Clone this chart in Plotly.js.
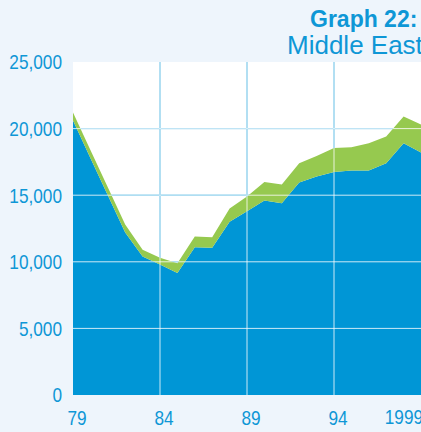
<!DOCTYPE html>
<html>
<head>
<meta charset="utf-8">
<script src="https://cdn.plot.ly/plotly-3.0.1.min.js"></script>
<style>
  html, body { margin: 0; padding: 0; background: #eef5fc; }
  #chart { width: 421px; height: 432px; }
  /* narrow look of the reference's tick labels */
  #chart g.ytick { transform-box: fill-box; transform-origin: 100% 50%; transform: scaleX(0.82); }
  #chart g.xtick { transform-box: fill-box; transform-origin: 50% 50%; transform: scaleX(0.82); }
  #chart .annotation[data-index="0"] .annotation-text-g { transform-box: fill-box; transform-origin: 100% 50%; transform: scaleX(0.82); }
</style>
</head>
<body>
<div id="chart"></div>
<script>
// ---- data ----
const years = [1979, 1980, 1981, 1982, 1983, 1984, 1985, 1986, 1987, 1988, 1989,
               1990, 1991, 1992, 1993, 1994, 1995, 1996, 1997, 1998, 1999];
// lower (blue) series
const blueValues = [20600, 17800, 15000, 12200, 10400, 9800, 9150, 11100, 11050, 13000, 13800,
                    14600, 14400, 15950, 16400, 16750, 16850, 16850, 17400, 18900, 18200];
// upper (green) series, stacked on top of the blue one
const greenValues = [600, 600, 600, 600, 500, 500, 750, 800, 800, 1000, 1100,
                     1400, 1400, 1450, 1550, 1800, 1750, 2050, 2000, 2000, 2100];

const xTickVals = [1979, 1984, 1989, 1994];
const xTickText = ['79', '84', '89', '94'];
const lastXLabelYear = 1999;
const lastXLabelText = '1999';
const yTickVals = [0, 5000, 10000, 15000, 20000, 25000];
const gridXVals = [1984, 1989, 1994];
const gridYVals = [5000, 10000, 15000, 20000];
const titleLine1 = 'Graph 22:';
const titleLine2 = 'Middle East';

// ---- styles ----
const BLUE = '#0096d6';
const GREEN = '#96c94f';
const BG = '#eef5fc';
const TEXT = '#0e97d6';
const tickFont = { family: "'Liberation Sans', Arial, sans-serif", size: 21, color: TEXT };

const traces = [
  { x: years, y: blueValues, stackgroup: 'one', mode: 'none', fillcolor: BLUE, hoverinfo: 'skip', name: 'blue' },
  { x: years, y: greenValues, stackgroup: 'one', mode: 'none', fillcolor: GREEN, hoverinfo: 'skip', name: 'green' }
];

const shapes = [];
// blue grid lines under the areas (visible over white)
gridXVals.forEach(v => shapes.push({ type: 'line', xref: 'x', yref: 'paper', x0: v, x1: v, y0: 0, y1: 1, layer: 'below', line: { color: BLUE, width: 1 } }));
gridYVals.forEach(v => shapes.push({ type: 'line', xref: 'paper', yref: 'y', x0: 0, x1: 1, y0: v, y1: v, layer: 'below', line: { color: BLUE, width: 1 } }));
// light grid lines above the areas (visible over the fill)
gridXVals.forEach(v => shapes.push({ type: 'line', xref: 'x', yref: 'paper', x0: v, x1: v, y0: 0, y1: 1, layer: 'above', opacity: 0.8, line: { color: '#ffffff', width: 1 } }));
gridYVals.forEach(v => shapes.push({ type: 'line', xref: 'paper', yref: 'y', x0: 0, x1: 1, y0: v, y1: v, layer: 'above', opacity: 0.8, line: { color: '#ffffff', width: 1 } }));

const layout = {
  width: 421, height: 432,
  margin: { l: 73, r: 0, t: 62, b: 37 },
  paper_bgcolor: BG,
  plot_bgcolor: '#ffffff',
  showlegend: false,
  xaxis: {
    range: [1979, 1999], tickvals: xTickVals, ticktext: xTickText,
    showgrid: false, zeroline: false, showline: false, ticks: '',
    tickfont: tickFont, ticklabelstandoff: 8, ticklabelshift: 4, fixedrange: true
  },
  yaxis: {
    range: [0, 25000], tickvals: yTickVals, tickformat: ',d',
    showgrid: false, zeroline: false, showline: false, ticks: '',
    tickfont: tickFont, ticklabelstandoff: 10, fixedrange: true
  },
  shapes: shapes,
  annotations: [
    { text: lastXLabelText, x: lastXLabelYear, xref: 'x', xanchor: 'right', xshift: 4,
      y: 0, yref: 'paper', yanchor: 'top', yshift: -8, showarrow: false, font: tickFont },
    { text: titleLine1, xref: 'paper', x: 1, xanchor: 'right', xshift: -2,
      yref: 'paper', y: 1, yanchor: 'middle', yshift: 43, showarrow: false,
      font: { family: "'Liberation Sans', Arial, sans-serif", size: 23, weight: 'bold', color: TEXT } },
    { text: titleLine2, xref: 'paper', x: 1, xanchor: 'right', xshift: 5,
      yref: 'paper', y: 1, yanchor: 'middle', yshift: 17, showarrow: false,
      font: { family: "'Liberation Sans', Arial, sans-serif", size: 26, color: TEXT } }
  ]
};

Plotly.newPlot('chart', traces, layout, { staticPlot: true, displayModeBar: false });
</script>
</body>
</html>
